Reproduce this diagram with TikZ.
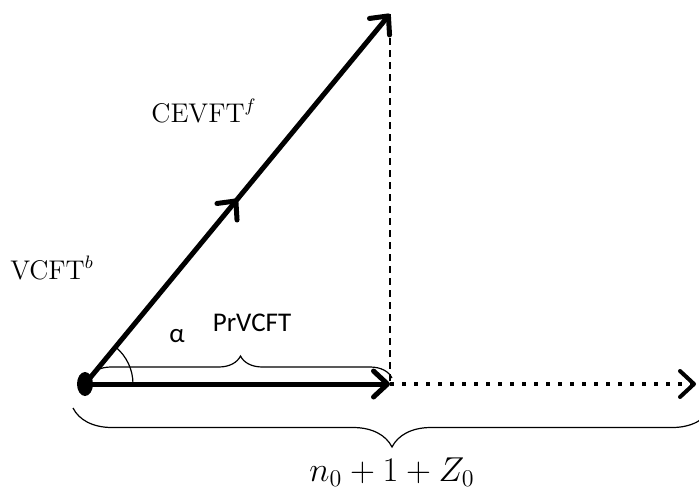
\documentclass[tikz,border=0pt]{standalone}
\usepackage{fontspec}
\newfontfamily\labelsf{Carlito}
\usepackage{tikz}
\usetikzlibrary{positioning,arrows.meta,decorations.pathreplacing,decorations.markings,calc}
\tikzset{
  vec/.style={line width=2.5pt, line cap=round, -{Straight Barb[length=7pt,width=13pt,round]}},
  proj/.style={line width=2pt, dash pattern=on 2pt off 4pt, -{Straight Barb[length=7pt,width=13pt,round]}},
  guide/.style={line width=0.7pt, dash pattern=on 3.5pt off 2.5pt},
  midarrow/.style={postaction={decorate}, decoration={markings,
    mark=at position 0.5 with {\arrow{Straight Barb[length=7pt,width=13pt,round]}}}},
  brc/.style={line width=0.6pt, decorate, decoration={brace,amplitude=#1}},
  lbl/.style={font=\fontsize{13.5}{16}\selectfont, inner sep=1pt},
  sflbl/.style={font=\labelsf\fontsize{13.5}{16}\selectfont, inner sep=1pt}
}
\begin{document}
\begin{tikzpicture}[x=0.5pt, y=-0.5pt]
\useasboundingbox (0,0) rectangle (699,493);
\coordinate (o) at (85,384);
\coordinate (h) at (390,384);
\coordinate (t) at (390,14);
\coordinate (e) at (696,384);
% vectors
\draw[guide] (t) -- (h);
\draw[proj] (h) -- (e);
\draw[vec, midarrow] (o) -- (t);
\draw[vec] (o) -- (h);
\fill (o) ellipse [x radius=8, y radius=12];
% angle
\draw[line width=0.6pt] ($(o)+(48,0)$) arc [start angle=0, end angle=-50.4, radius=48];
% braces
\draw[brc=11pt] (89,378) -- (392,378);
\draw[brc=19.5pt] (711,408) -- (73,408);
% labels
\node[lbl] (cev) at (204,111) {CEVFT$^{f}$};
\node[lbl] (vcf) at (52,268) {VCFT$^{b}$};
\node[sflbl] (pr) at (252,323) {PrVCFT};
\node[sflbl] (al) at (177,336) {α};
\node[lbl, font=\fontsize{17}{20}\selectfont] (sum) at (392,472) {$n_0+1+Z_0$};
\end{tikzpicture}
\end{document}
